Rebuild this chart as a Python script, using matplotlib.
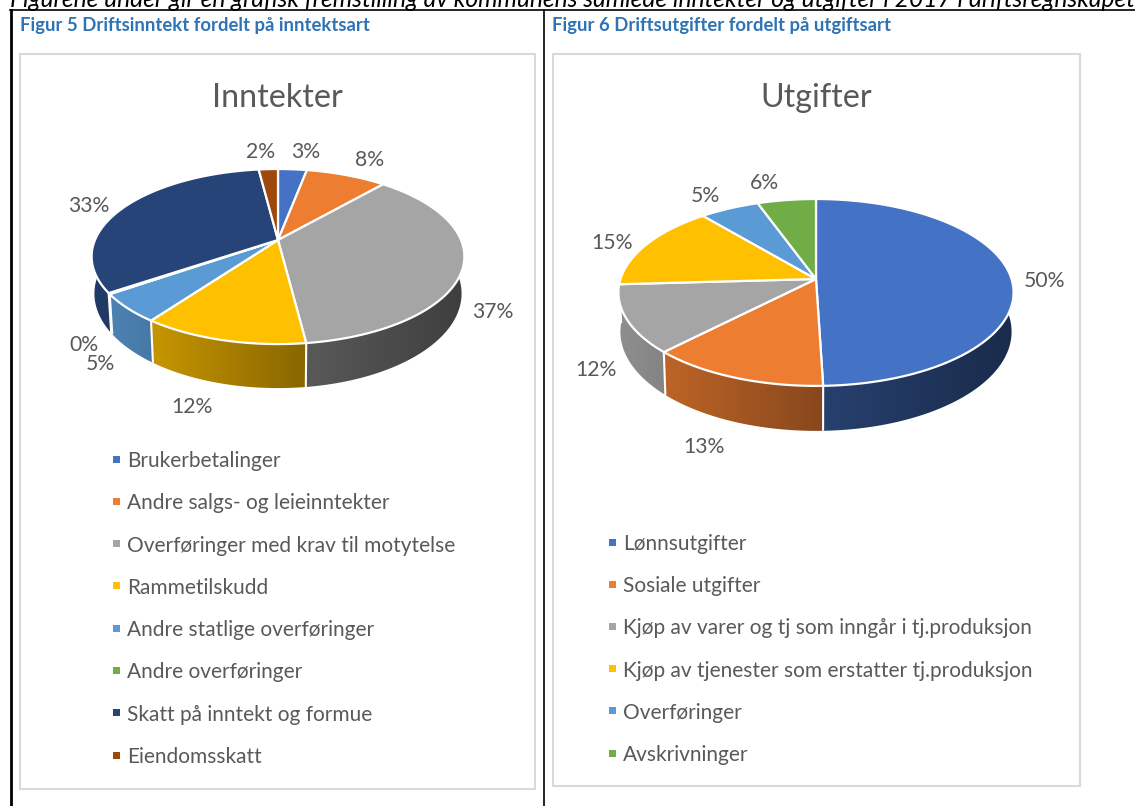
import numpy as np
import matplotlib
matplotlib.use("Agg")
import matplotlib.pyplot as plt
from matplotlib.patches import Rectangle, Polygon
from matplotlib.colors import to_rgb

# ---- data ----
income_categories = ["Brukerbetalinger", "Andre salgs- og leieinntekter",
                     "Overføringer med krav til motytelse", "Rammetilskudd",
                     "Andre statlige overføringer", "Andre overføringer",
                     "Skatt på inntekt og formue", "Eiendomsskatt"]
income_values = [3, 8.4, 36.6, 12, 5.3, 0.2, 32.5, 2]
income_labels = ["3%", "8%", "37%", "12%", "5%", "0%", "33%", "2%"]
income_colors = ["#4472C4", "#ED7D31", "#A5A5A5", "#FFC000",
                 "#5B9BD5", "#70AD47", "#264478", "#9E480E"]

cost_categories = ["Lønnsutgifter", "Sosiale utgifter",
                   "Kjøp av varer og tj som inngår i tj.produksjon",
                   "Kjøp av tjenester som erstatter tj.produksjon",
                   "Overføringer", "Avskrivninger"]
cost_values = [49.5, 12.8, 11.8, 14.8, 5.6, 5.5]
cost_labels = ["50%", "13%", "12%", "15%", "5%", "6%"]
cost_colors = ["#4472C4", "#ED7D31", "#A5A5A5", "#FFC000", "#5B9BD5", "#70AD47"]

intro = ("Figurene under gir en grafisk fremstilling av kommunens samlede "
         "inntekter og utgifter i 2017 i driftsregnskapet")

# ---- figure ----
plt.rcParams['font.family'] = ['Lato', 'DejaVu Sans']
fig = plt.figure(figsize=(11.35, 8.06), dpi=100)
ax = fig.add_axes([0, 0, 1, 1])
ax.axis('off')
TXT = "#595959"


def shade(t):
    return np.interp(t, [-1, -0.7, 0.1, 1], [0.86, 0.78, 0.55, 0.38])


def pie3d(values, colors, cx, cy, rx, ry, k, depth, taper, z=3):
    fracs = np.cumsum([0] + list(values)) / np.sum(values)
    angles = fracs * 2 * np.pi

    def top(a):
        u, v = np.sin(a), np.cos(a)
        w = 1 + k * v
        return cx + rx * u / w, cy - ry * v / w

    def bottom(a):
        u, v = np.sin(a), np.cos(a)
        w = 1 + k * v
        return cx + taper * rx * u / w, cy - ry * v / w + depth / w

    # side wall: one horizontal gradient per slice, clipped to the wall shape
    walls = []
    for i, col in enumerate(colors):
        a = np.linspace(angles[i], angles[i + 1], 240)
        a = a[np.cos(a) < 0.1]
        if len(a) >= 2:
            walls.append((np.cos(a).mean(), col, a))
    walls.sort(key=lambda w: -w[0])          # back to front
    for _, col, a in walls:
        xt, yt = top(a)
        xb, yb = bottom(a)
        xs = np.r_[xt, xb[::-1]]
        ys = np.r_[yt, yb[::-1]]
        tt = np.linspace(-1.05, 1.05, 400)
        rgb = np.array(to_rgb(col))[None, None, :] * np.clip(shade(tt), 0, 1)[None, :, None]
        im = ax.imshow(rgb, extent=(cx - 1.05 * rx, cx + 1.05 * rx, ys.max() + 2, ys.min() - 2),
                       aspect='auto', interpolation='bilinear', zorder=z)
        poly = Polygon(np.c_[xs, ys], closed=True, transform=ax.transData)
        im.set_clip_path(poly)
    # white seams on the wall
    for a in angles[:-1]:
        if np.cos(a) < 0.1:
            x0, y0 = top(a)
            x1, y1 = bottom(a)
            ax.plot([x0, x1], [y0, y1], color="white", lw=1.5, zorder=z + 1,
                    solid_capstyle='butt')
    # top slices
    for i, col in enumerate(colors):
        n = max(2, int((angles[i + 1] - angles[i]) / np.radians(0.5)))
        a = np.linspace(angles[i], angles[i + 1], n + 1)
        x, y = top(a)
        ax.fill(np.r_[cx, x], np.r_[cy, y], facecolor=col, edgecolor="white",
                lw=1.6, joinstyle='round', zorder=z + 2)


def legend(cats, colors, xm, xt, y0, dy):
    for i, (c, col) in enumerate(zip(cats, colors)):
        y = y0 + i * dy
        ax.add_patch(Rectangle((xm - 3.5, y - 3.5), 7, 7, facecolor=col, edgecolor='none'))
        ax.text(xt, y + 2, c, color=TXT, fontsize=LEG, va='center', ha='left')


LEG = 15.05
# intro line & table frame
ax.text(10, 7, intro, style='italic', fontsize=17.75, color='black', ha='left',
        va='baseline', clip_on=True)
ax.plot([10, 1135], [10, 10], color='black', lw=1.2, zorder=6)
ax.plot([10.5, 10.5], [10, 806], color='black', lw=2.0, zorder=6)
ax.plot([543.5, 543.5], [10, 806], color='black', lw=1.2, zorder=6)

ax.text(20, 25.5, "Figur 5 Driftsinntekt fordelt på inntektsart", color="#2E74B5",
        fontweight='bold', fontsize=13.3, va='center')
ax.text(552, 25.5, "Figur 6 Driftsutgifter fordelt på utgiftsart", color="#2E74B5",
        fontweight='bold', fontsize=13.3, va='center')

for (x0, y0, x1, y1) in [(20, 54, 535, 789), (553, 54, 1080, 786)]:
    ax.add_patch(Rectangle((x0, y0), x1 - x0, y1 - y0, facecolor='white',
                           edgecolor='#D9D9D9', lw=1.5, zorder=1))

ax.text(277, 98, "Inntekter", color=TXT, fontsize=23.2, ha='center', va='center', zorder=2)
ax.text(816, 98, "Utgifter", color=TXT, fontsize=23.2, ha='center', va='center', zorder=2)

pie3d(income_values, income_colors, 278, 240, 183, 84.4, 0.189, 35.7, 0.985)
pie3d(cost_values, cost_colors, 816, 279, 195.5, 91.5, 0.144, 38.5, 0.99)

income_label_pos = [(306, 152), (370, 160), (493, 312), (192, 407),
                    (100, 364), (84, 345), (89, 206), (261, 152)]
cost_label_pos = [(1045, 281), (704, 447), (596, 370), (612, 243), (705, 196), (764, 183)]
for lab, (x, y) in zip(income_labels + cost_labels, income_label_pos + cost_label_pos):
    ax.text(x, y, lab, color=TXT, fontsize=15.2, ha='center', va='center', zorder=7)

legend(income_categories, income_colors, 116, 127, 459, 42.3)
legend(cost_categories, cost_colors, 612, 623, 542, 42.2)

ax.set_xlim(0, 1135)
ax.set_ylim(806, 0)
fig.savefig("out.png", dpi=100)
